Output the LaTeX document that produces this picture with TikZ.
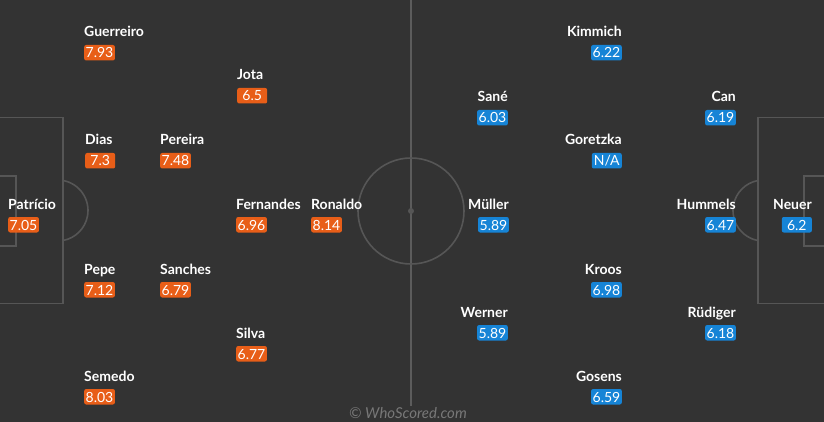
\documentclass[tikz,border=0pt]{standalone}
\usepackage{fontspec}
\setmainfont{Lato}
\definecolor{bg}{RGB}{51,51,51}
\definecolor{fline}{RGB}{86,86,86}
\definecolor{midl}{RGB}{92,92,92}
\definecolor{ptorange}{RGB}{232,94,24}
\definecolor{deblue}{RGB}{22,132,214}
\definecolor{wmgray}{RGB}{120,120,120}
\tikzset{
  fieldline/.style={draw=fline, line width=1.6pt},
  pname/.style={text=white, font=\bfseries\fontsize{14}{16}\selectfont, inner sep=0pt},
  prate/.style={text=white, font=\fontsize{14}{16}\selectfont, rounded corners=2pt,
     inner xsep=1.5pt, inner ysep=1.5pt, text height=11.5pt, text depth=1pt,
     minimum width=30pt, align=center},
}
\newcommand\ptplayer[5]{%
  \node[pname, anchor=base west] (#1n) at (#2,#3) {#4};
  \node[prate, fill=ptorange, anchor=base west] (#1r) at (#2,#3+21) {#5};
}
\newcommand\deplayer[5]{%
  \node[pname, anchor=base east] (#1n) at (#2,#3) {#4};
  \node[prate, fill=deblue, anchor=base east] (#1r) at (#2,#3+21) {#5};
}
\begin{document}
\begin{tikzpicture}[x=1pt,y=-1pt]
\fill[bg] (0,0) rectangle (824,422);
\useasboundingbox (0,0) rectangle (824,422);
% pitch
\draw[draw=midl, line width=2pt] (411,0) -- (411,406);
\draw[fieldline] (411,211) circle (53);
\fill[fline] (411,211) circle (3);
\draw[fieldline] (-3,117.5) rectangle (63,303.5);
\draw[fieldline] (-3,176) rectangle (16,246);
\draw[fieldline] ([shift={(57.5,210.5)}]-79.6:30.5) arc (-79.6:79.6:30.5);
\draw[fieldline] (827,117.5) rectangle (758,303.5);
\draw[fieldline] (827,176) rectangle (804,246);
\draw[fieldline] ([shift={(763.5,210.5)}]100.4:30.5) arc (100.4:259.6:30.5);
% Portugal
\ptplayer{patricio}{8}{209}{Patrício}{7.05}
\ptplayer{guerreiro}{84}{37}{Guerreiro}{7.93}
\ptplayer{dias}{85}{145}{Dias}{7.3}
\ptplayer{pepe}{84}{274}{Pepe}{7.12}
\ptplayer{semedo}{84}{381}{Semedo}{8.03}
\ptplayer{pereira}{160}{145}{Pereira}{7.48}
\ptplayer{sanches}{160}{274}{Sanches}{6.79}
\ptplayer{jota}{237}{80}{Jota}{6.5}
\ptplayer{fernandes}{236}{209}{Fernandes}{6.96}
\ptplayer{silva}{236}{338}{Silva}{6.77}
\ptplayer{ronaldo}{311}{209}{Ronaldo}{8.14}
% Germany
\deplayer{neuer}{812}{209}{Neuer}{6.2}
\deplayer{can}{736}{102}{Can}{6.19}
\deplayer{hummels}{736}{209}{Hummels}{6.47}
\deplayer{rudiger}{736}{317}{Rüdiger}{6.18}
\deplayer{kimmich}{622}{37}{Kimmich}{6.22}
\deplayer{goretzka}{622}{145}{Goretzka}{N/A}
\deplayer{kroos}{622}{274}{Kroos}{6.98}
\deplayer{gosens}{622}{381}{Gosens}{6.59}
\deplayer{sane}{508}{102}{Sané}{6.03}
\deplayer{muller}{509}{209}{Müller}{5.89}
\deplayer{werner}{508}{317}{Werner}{5.89}
% watermark
\node[text=wmgray, font=\itshape\fontsize{15}{16}\selectfont, anchor=base, inner sep=0pt] (wm) at (408,418) {© WhoScored.com};
\end{tikzpicture}
\end{document}
